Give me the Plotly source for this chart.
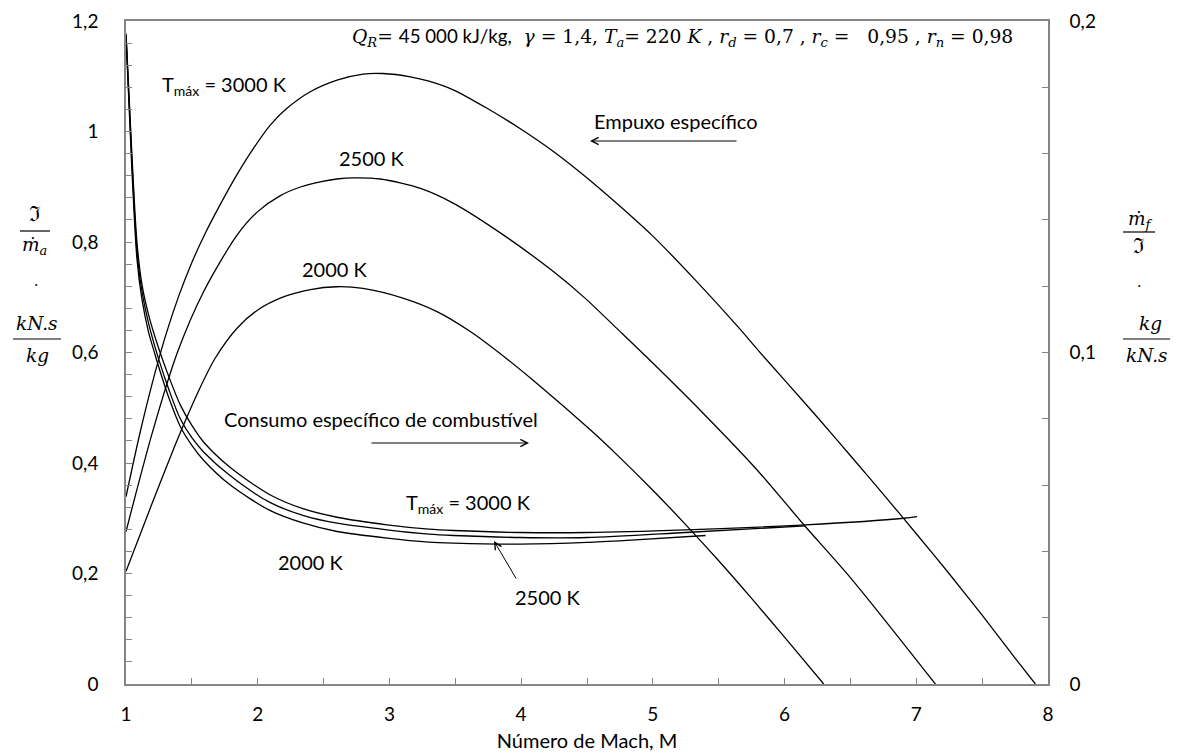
import plotly.graph_objects as go

# ---- Specific thrust (kN.s/kg) vs Mach number, left axis ----
mach_thrust_3000 = [1.0, 1.1, 1.2, 1.3, 1.4, 1.5, 1.6, 1.716, 1.85, 1.969, 2.1, 2.222, 2.399,
                    2.602, 2.8, 2.95, 3.159, 3.3, 3.488, 3.741, 3.994, 4.25, 4.48, 4.74, 4.994,
                    5.323, 5.652, 5.803, 6.0, 6.259, 6.512, 6.765, 7.0, 7.25, 7.5, 7.75, 7.904]
thrust_3000 = [0.339, 0.448, 0.545, 0.630, 0.702, 0.763, 0.815, 0.868, 0.925, 0.970, 1.013,
               1.042, 1.072, 1.093, 1.104, 1.105, 1.099, 1.091, 1.075, 1.042, 1.005, 0.963,
               0.920, 0.867, 0.812, 0.731, 0.645, 0.603, 0.550, 0.480, 0.410, 0.339, 0.272,
               0.1995, 0.1245, 0.047, 0.0]

mach_thrust_2500 = [1.0, 1.2, 1.39, 1.589, 1.843, 2.0, 2.172, 2.33, 2.475, 2.6, 2.728, 2.931,
                    3.235, 3.487, 3.867, 4.247, 4.487, 4.72, 4.943, 5.374, 5.778, 6.158, 6.512,
                    7.145]
thrust_2500 = [0.276, 0.455, 0.600, 0.710, 0.8125, 0.855, 0.884, 0.900, 0.909, 0.914, 0.916,
               0.914, 0.897, 0.870, 0.8125, 0.746, 0.698, 0.645, 0.594, 0.492, 0.391, 0.285,
               0.189, 0.0]

mach_thrust_2000 = [1.0, 1.2, 1.4, 1.55, 1.678, 1.843, 2.0, 2.2, 2.4, 2.6, 2.8, 3.108, 3.361,
                    3.614, 3.83, 4.12, 4.525, 4.74, 4.994, 5.247, 5.5, 5.753, 6.006, 6.297]
thrust_2000 = [0.204, 0.328, 0.448, 0.530, 0.590, 0.644, 0.677, 0.701, 0.714, 0.719, 0.716,
               0.698, 0.674, 0.638, 0.600, 0.544, 0.460, 0.412, 0.352, 0.289, 0.223, 0.154,
               0.083, 0.0]

# ---- Specific fuel consumption (kg/kN.s) vs Mach number, right axis ----
mach_sfc_3000 = [1.0, 1.045, 1.083, 1.12, 1.172, 1.248, 1.33, 1.412, 1.5, 1.589, 1.792, 2.096,
                 2.349, 2.602, 2.982, 3.3, 3.488, 3.994, 4.5, 5.247, 6.158, 6.905, 7.006]
sfc_3000 = [0.1962, 0.1595, 0.1333, 0.1208, 0.1113, 0.1013, 0.0922, 0.0842, 0.0780, 0.0730,
            0.0653, 0.0570, 0.0528, 0.0503, 0.0480, 0.0467, 0.0463, 0.0457, 0.0457, 0.0465,
            0.0480, 0.0500, 0.0505]

mach_sfc_2500 = [1.0, 1.045, 1.083, 1.12, 1.172, 1.248, 1.33, 1.412, 1.5, 1.589, 1.792, 2.096,
                 2.349, 2.602, 2.982, 3.3, 3.488, 3.994, 4.5, 5.247, 6.158]
sfc_2500 = [0.1958, 0.1575, 0.1308, 0.1187, 0.1087, 0.0980, 0.0883, 0.0800, 0.0743, 0.0700,
            0.0628, 0.0547, 0.0508, 0.0485, 0.0465, 0.0452, 0.0448, 0.0442, 0.0442, 0.0457,
            0.0477]

mach_sfc_2000 = [1.0, 1.045, 1.083, 1.12, 1.172, 1.21, 1.248, 1.33, 1.412, 1.5, 1.589, 1.792,
                 2.096, 2.349, 2.602, 2.982, 3.3, 3.488, 3.994, 4.5, 4.867, 5.4]
sfc_2000 = [0.1953, 0.1550, 0.1283, 0.1163, 0.1060, 0.1008, 0.0957, 0.0858, 0.0777, 0.0720,
            0.0675, 0.0600, 0.0523, 0.0485, 0.0460, 0.0440, 0.0428, 0.0425, 0.0422, 0.0427,
            0.0435, 0.0448]

x_ticks = [1, 2, 3, 4, 5, 6, 7, 8]

W, H = 1179, 755
L, R, T, B = 126, 1048, 21, 684
SANS = "Lato"
SERIF = "DejaVu Serif"
FS = 20
TICK_FS = 19
MATH_FS = 18.5


def px(xp):
    return (xp - L) / (R - L)


def py(yp):
    return (B - yp) / (B - T)


fig = go.Figure()
line = dict(color="black", width=1.3, shape="spline", smoothing=0.8)
for mx, vy in [(mach_thrust_3000, thrust_3000), (mach_thrust_2500, thrust_2500),
               (mach_thrust_2000, thrust_2000)]:
    fig.add_trace(go.Scatter(x=mx, y=vy, mode="lines", line=line, yaxis="y",
                             showlegend=False, hoverinfo="skip"))
for mx, vy in [(mach_sfc_3000, sfc_3000), (mach_sfc_2500, sfc_2500),
               (mach_sfc_2000, sfc_2000)]:
    fig.add_trace(go.Scatter(x=mx, y=vy, mode="lines", line=line, yaxis="y2",
                             showlegend=False, hoverinfo="skip"))

axis_col = "#858585"
tickfont = dict(family=SANS, size=TICK_FS, color="black")

annotations = []


def text(xp, yp, s, size=FS, family=SANS, xanchor="center", yanchor="middle"):
    annotations.append(dict(x=px(xp), y=py(yp), xref="paper", yref="paper", text=s,
                            showarrow=False, xanchor=xanchor, yanchor=yanchor,
                            font=dict(family=family, size=size, color="black")))


# curve labels
tmax = "T<sub>máx</sub> = 3000 K"
text(160, 85, tmax, xanchor="left")
text(372, 158, "2500 K")
text(335, 269, "2000 K")
text(676, 121, "Empuxo específico")
text(222, 419, "Consumo específico de combustível", xanchor="left")
text(404, 503, tmax, xanchor="left")
text(311, 562, "2000 K")
text(548, 597, "2500 K")

# parameters line
params = ("<i>Q</i><sub><i>R</i></sub>= "
          f"<span style=\"font-family:{SANS}\">45 000 kJ/kg,</span>\u00a0\u00a0"
          "<i>γ</i> = 1,4, <i>T</i><sub><i>a</i></sub>= 220 <i>K</i> , "
          "<i>r</i><sub><i>d</i></sub> = 0,7 , <i>r</i><sub><i>c</i></sub> =\u00a0\u00a0 0,95 , "
          "<i>r</i><sub><i>n</i></sub> = 0,98")
text(350, 37, params, size=18.7, family=SERIF, xanchor="left")

# left axis unit label
text(35, 214, "ℑ", size=21, family=SERIF)
text(34, 246, "<i>ṁ</i><sub><i>a</i></sub>", size=MATH_FS, family=SERIF)
text(36, 285, "·", size=14, family=SERIF)
text(37, 323, "<i>kN.s</i>", size=MATH_FS, family=SERIF)
text(37, 355, "<i>kg</i>", size=MATH_FS, family=SERIF)

# right axis unit label
text(1140, 220, "<i>ṁ</i><sub><i>f</i></sub>", size=MATH_FS, family=SERIF)
text(1139, 246, "ℑ", size=21, family=SERIF)
text(1139, 286, "·", size=14, family=SERIF)
text(1150, 323, "<i>kg</i>", size=MATH_FS, family=SERIF)
text(1147, 355, "<i>kN.s</i>", size=MATH_FS, family=SERIF)


# arrows (tail -> head, in pixels)
def arrow(x0, y0, x1, y1):
    annotations.append(dict(x=px(x1), y=py(y1), ax=x0 - x1, ay=y0 - y1, xref="paper",
                            yref="paper", axref="pixel", ayref="pixel", text="",
                            showarrow=True, arrowhead=5, arrowsize=1.4, arrowwidth=1.0,
                            arrowcolor="black"))


arrow(738, 141, 590, 141)
arrow(370, 443, 529, 443)
arrow(517, 580, 494, 541)

shapes = []
for x0, x1, yy in [(20, 50, 231), (13, 61, 339), (1123, 1155, 232), (1123, 1170, 339)]:
    shapes.append(dict(type="line", xref="paper", yref="paper", x0=px(x0), x1=px(x1),
                       y0=py(yy), y1=py(yy), line=dict(color="black", width=1.2)))

fig.update_layout(
    width=W, height=H,
    margin=dict(l=L, r=W - R, t=T, b=H - B),
    paper_bgcolor="white", plot_bgcolor="white",
    separators=", ",
    showlegend=False,
    xaxis=dict(range=[1, 8], tickvals=x_ticks, ticks="inside", ticklen=6, tickcolor=axis_col,
               showgrid=False, zeroline=False, showline=True, linecolor=axis_col, linewidth=1.5,
               mirror=True, tickfont=tickfont, ticklabelstandoff=12, automargin=False,
               minor=dict(dtick=0.5, ticks="inside", ticklen=6, tickcolor=axis_col),
               title=dict(text="Número de Mach, M", font=dict(family=SANS, size=FS, color="black"),
                          standoff=10)),
    yaxis=dict(range=[0, 1.2], dtick=0.2, ticks="inside", ticklen=6, tickcolor=axis_col,
               showgrid=False, zeroline=False, showline=True, linecolor=axis_col, linewidth=1.5,
               tickfont=tickfont, ticklabelstandoff=22, automargin=False,
               minor=dict(dtick=0.04, ticks="inside", ticklen=6, tickcolor=axis_col)),
    yaxis2=dict(range=[0, 0.2], dtick=0.1, overlaying="y", side="right", ticks="inside",
                ticklen=6, tickcolor=axis_col, showgrid=False, zeroline=False, showline=True,
                linecolor=axis_col, linewidth=1.5, tickfont=tickfont, ticklabelstandoff=16,
                automargin=False,
                minor=dict(dtick=0.02, ticks="inside", ticklen=6, tickcolor=axis_col)),
    annotations=annotations,
    shapes=shapes,
)

fig.write_html("out.html")
